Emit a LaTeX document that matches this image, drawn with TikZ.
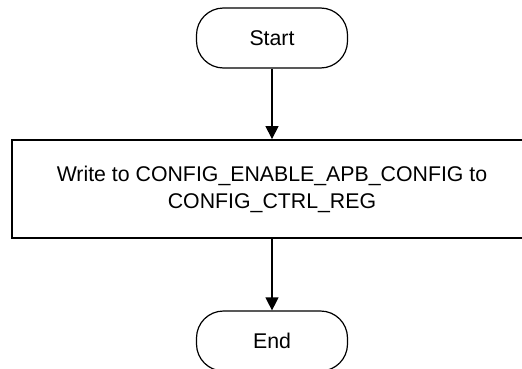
\documentclass[tikz,border=0pt]{standalone}
\usepackage{fontspec}
\setmainfont{Liberation Sans}
\usetikzlibrary{arrows.meta}
\begin{document}
\begin{tikzpicture}[x=1pt,y=1pt,
  terminal/.style={draw=black, line width=1.2pt, rounded corners=27pt,
    minimum width=151pt, minimum height=60pt, inner sep=0pt,
    font=\fontsize{21.3}{27}\selectfont},
  process/.style={draw=black, line width=1.8pt,
    minimum width=520pt, minimum height=98pt, inner sep=0pt, align=center,
    font=\fontsize{21.3}{27}\selectfont},
  flow/.style={line width=1.2pt, -{Triangle[length=13pt,width=13pt]}}]
  \useasboundingbox (0,0) rectangle (522,368);
  \clip (0,0) rectangle (522,368);
  \node[terminal] (start) at (272,330) {Start};
  \node[process] (write) at (272,179) {Write to CONFIG\_ENABLE\_APB\_CONFIG to\\CONFIG\_CTRL\_REG};
  \node[terminal] (end) at (272,27) {End};
  \draw[flow] (start) -- (write);
  \draw[flow] (write) -- (end);
\end{tikzpicture}
\end{document}
